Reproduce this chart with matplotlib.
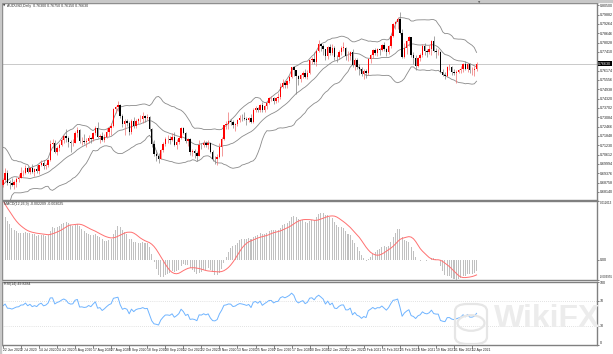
import numpy as np
import pandas as pd
import matplotlib
matplotlib.use('Agg')
import matplotlib.pyplot as plt
from matplotlib.patches import Rectangle, FancyBboxPatch, Circle

plt.rcParams['font.family'] = ['Liberation Sans', 'DejaVu Sans']

# AUDUSD daily closes before the visible window (23 Mar - 19 Jun 2020), only to warm up the indicators
pre_close = [
    0.5810, 0.5930, 0.5960, 0.6050, 0.6140, 0.6110, 0.6130, 0.6070, 0.6060, 0.5980,
    0.6100, 0.6170, 0.6220, 0.6350, 0.6370, 0.6380, 0.6420, 0.6300, 0.6340, 0.6360,
    0.6360, 0.6280, 0.6350, 0.6380, 0.6390, 0.6420, 0.6500, 0.6540, 0.6520, 0.6400,
    0.6410, 0.6440, 0.6440, 0.6510, 0.6540, 0.6490, 0.6470, 0.6460, 0.6450, 0.6420,
    0.6530, 0.6560, 0.6580, 0.6560, 0.6530, 0.6550, 0.6640, 0.6620, 0.6630, 0.6670,
    0.6790, 0.6910, 0.6970, 0.6950, 0.6990, 0.7000, 0.6970, 0.7040, 0.6860, 0.6870,
    0.6910, 0.6900, 0.6880, 0.6860, 0.6860]

# visible bars: 22 Jun 2020 - 14 Apr 2021
first_open = 0.6860
close = [
    0.6893, 0.6937, 0.6876, 0.6874, 0.6863, 0.6881, 0.6901, 0.6906, 0.6937, 0.6939,
    0.6973, 0.6946, 0.6971, 0.6947, 0.6963, 0.6954, 0.6991, 0.7008, 0.6984, 0.6995,
    0.7025, 0.7134, 0.7136, 0.7078, 0.7107, 0.7124, 0.7158, 0.7183, 0.7172, 0.7146,
    0.7137, 0.7141, 0.7206, 0.7222, 0.7150, 0.7153, 0.7147, 0.7151, 0.7174, 0.7164,
    0.7201, 0.7236, 0.7178, 0.7186, 0.7157, 0.7179, 0.7209, 0.7237, 0.7253, 0.7363,
    0.7376, 0.7390, 0.7318, 0.7264, 0.7281, 0.7269, 0.7210, 0.7283, 0.7248, 0.7282,
    0.7296, 0.7300, 0.7315, 0.7303, 0.7307, 0.7232, 0.7129, 0.7062, 0.7051, 0.7034,
    0.7093, 0.7130, 0.7162, 0.7163, 0.7157, 0.7177, 0.7127, 0.7146, 0.7172, 0.7237,
    0.7206, 0.7149, 0.7165, 0.7078, 0.7083, 0.7074, 0.7053, 0.7127, 0.7123, 0.7141,
    0.7125, 0.7138, 0.7078, 0.7034, 0.7030, 0.7044, 0.7110, 0.7165, 0.7254, 0.7263,
    0.7282, 0.7280, 0.7254, 0.7262, 0.7288, 0.7305, 0.7301, 0.7296, 0.7289, 0.7302,
    0.7277, 0.7355, 0.7368, 0.7354, 0.7389, 0.7353, 0.7380, 0.7405, 0.7436, 0.7436,
    0.7417, 0.7437, 0.7442, 0.7508, 0.7532, 0.7524, 0.7546, 0.7578, 0.7639, 0.7623,
    0.7579, 0.7562, 0.7586, 0.7603, 0.7578, 0.7601, 0.7684, 0.7693, 0.7676, 0.7747,
    0.7794, 0.7778, 0.7760, 0.7713, 0.7775, 0.7735, 0.7770, 0.7710, 0.7704, 0.7743,
    0.7768, 0.7770, 0.7713, 0.7713, 0.7739, 0.7652, 0.7686, 0.7644, 0.7629, 0.7594,
    0.7617, 0.7600, 0.7697, 0.7723, 0.7754, 0.7734, 0.7757, 0.7755, 0.7785, 0.7763,
    0.7739, 0.7777, 0.7849, 0.7925, 0.7936, 0.7958, 0.7868, 0.7707, 0.7770, 0.7810,
    0.7840, 0.7720, 0.7700, 0.7650, 0.7700, 0.7720, 0.7780, 0.7750, 0.7740, 0.7760,
    0.7810, 0.7750, 0.7740, 0.7740, 0.7610, 0.7590, 0.7580, 0.7640, 0.7640, 0.7610,
    0.7600, 0.7610, 0.7620, 0.7630, 0.7660, 0.7630, 0.7660, 0.7620, 0.7620, 0.7630,
    0.7663]
high = [
    0.6906, 0.6975, 0.6960, 0.6895, 0.6903, 0.6893, 0.6910, 0.6930, 0.6976, 0.6960,
    0.6990, 0.6984, 0.6980, 0.7000, 0.6975, 0.6991, 0.6995, 0.7026, 0.7025, 0.7005,
    0.7030, 0.7156, 0.7165, 0.7160, 0.7120, 0.7135, 0.7170, 0.7190, 0.7228, 0.7185,
    0.7160, 0.7166, 0.7214, 0.7242, 0.7228, 0.7175, 0.7196, 0.7170, 0.7189, 0.7180,
    0.7210, 0.7250, 0.7276, 0.7195, 0.7210, 0.7195, 0.7235, 0.7245, 0.7270, 0.7370,
    0.7385, 0.7414, 0.7395, 0.7330, 0.7295, 0.7300, 0.7285, 0.7295, 0.7310, 0.7295,
    0.7305, 0.7320, 0.7345, 0.7320, 0.7330, 0.7315, 0.7240, 0.7160, 0.7090, 0.7070,
    0.7100, 0.7145, 0.7175, 0.7190, 0.7185, 0.7205, 0.7210, 0.7165, 0.7185, 0.7243,
    0.7245, 0.7210, 0.7170, 0.7170, 0.7095, 0.7100, 0.7085, 0.7158, 0.7140, 0.7155,
    0.7150, 0.7160, 0.7145, 0.7090, 0.7050, 0.7065, 0.7140, 0.7175, 0.7260, 0.7285,
    0.7340, 0.7300, 0.7290, 0.7270, 0.7295, 0.7320, 0.7330, 0.7340, 0.7310, 0.7310,
    0.7330, 0.7370, 0.7380, 0.7375, 0.7395, 0.7410, 0.7390, 0.7415, 0.7440, 0.7450,
    0.7440, 0.7445, 0.7470, 0.7535, 0.7560, 0.7545, 0.7555, 0.7590, 0.7640, 0.7640,
    0.7620, 0.7590, 0.7595, 0.7615, 0.7630, 0.7620, 0.7690, 0.7710, 0.7743, 0.7755,
    0.7820, 0.7800, 0.7790, 0.7760, 0.7780, 0.7795, 0.7790, 0.7780, 0.7720, 0.7755,
    0.7780, 0.7805, 0.7775, 0.7745, 0.7750, 0.7760, 0.7700, 0.7700, 0.7660, 0.7640,
    0.7630, 0.7630, 0.7700, 0.7730, 0.7760, 0.7765, 0.7770, 0.7770, 0.7790, 0.7805,
    0.7770, 0.7785, 0.7855, 0.7930, 0.7945, 0.7975, 0.8007, 0.7890, 0.7800, 0.7820,
    0.7848, 0.7840, 0.7740, 0.7720, 0.7710, 0.7735, 0.7790, 0.7800, 0.7760, 0.7785,
    0.7820, 0.7849, 0.7765, 0.7760, 0.7750, 0.7625, 0.7610, 0.7645, 0.7660, 0.7650,
    0.7630, 0.7620, 0.7630, 0.7650, 0.7670, 0.7680, 0.7670, 0.7665, 0.7640, 0.7650,
    0.7675]
low = [
    0.6848, 0.6880, 0.6862, 0.6835, 0.6850, 0.6833, 0.6844, 0.6880, 0.6905, 0.6920,
    0.6935, 0.6938, 0.6930, 0.6940, 0.6922, 0.6942, 0.6930, 0.6985, 0.6965, 0.6967,
    0.6980, 0.7020, 0.7105, 0.7070, 0.7060, 0.7085, 0.7115, 0.7140, 0.7144, 0.7110,
    0.7076, 0.7120, 0.7135, 0.7180, 0.7135, 0.7126, 0.7130, 0.7110, 0.7140, 0.7140,
    0.7150, 0.7190, 0.7170, 0.7136, 0.7150, 0.7145, 0.7170, 0.7185, 0.7190, 0.7245,
    0.7335, 0.7350, 0.7305, 0.7245, 0.7191, 0.7250, 0.7190, 0.7200, 0.7240, 0.7240,
    0.7265, 0.7275, 0.7270, 0.7275, 0.7290, 0.7220, 0.7110, 0.7050, 0.7020, 0.7006,
    0.7030, 0.7075, 0.7120, 0.7140, 0.7130, 0.7150, 0.7120, 0.7100, 0.7130, 0.7165,
    0.7195, 0.7140, 0.7120, 0.7060, 0.7050, 0.7040, 0.7021, 0.7050, 0.7100, 0.7110,
    0.7110, 0.7100, 0.7070, 0.7020, 0.7000, 0.6991, 0.7040, 0.7050, 0.7160, 0.7230,
    0.7230, 0.7260, 0.7240, 0.7220, 0.7250, 0.7280, 0.7285, 0.7290, 0.7260, 0.7280,
    0.7270, 0.7270, 0.7340, 0.7345, 0.7345, 0.7340, 0.7340, 0.7360, 0.7395, 0.7415,
    0.7395, 0.7400, 0.7410, 0.7430, 0.7500, 0.7500, 0.7505, 0.7535, 0.7570, 0.7580,
    0.7462, 0.7525, 0.7540, 0.7570, 0.7570, 0.7560, 0.7595, 0.7660, 0.7660, 0.7650,
    0.7740, 0.7750, 0.7720, 0.7690, 0.7695, 0.7720, 0.7720, 0.7690, 0.7675, 0.7695,
    0.7720, 0.7750, 0.7690, 0.7680, 0.7690, 0.7640, 0.7620, 0.7630, 0.7590, 0.7580,
    0.7564, 0.7570, 0.7590, 0.7670, 0.7700, 0.7720, 0.7715, 0.7720, 0.7745, 0.7750,
    0.7715, 0.7730, 0.7770, 0.7840, 0.7895, 0.7890, 0.7860, 0.7700, 0.7700, 0.7730,
    0.7780, 0.7710, 0.7660, 0.7622, 0.7640, 0.7680, 0.7710, 0.7720, 0.7710, 0.7730,
    0.7720, 0.7740, 0.7700, 0.7720, 0.7600, 0.7580, 0.7563, 0.7575, 0.7620, 0.7590,
    0.7585, 0.7532, 0.7600, 0.7600, 0.7610, 0.7620, 0.7610, 0.7600, 0.7590, 0.7580,
    0.7615]

dates = pd.bdate_range('2020-06-22', '2021-04-14')
dates = dates[~dates.isin(pd.to_datetime(['2020-12-25', '2021-01-01']))]

# indicators as MT4 computes them (Bands 20/2, MACD 12/26/9, RSI 14)
allc = pd.Series(pre_close + close)
mid = allc.rolling(20).mean()
sd = allc.rolling(20).std(ddof=0)
upper = mid + 2 * sd
lower = mid - 2 * sd
macd = allc.ewm(span=12, adjust=False).mean() - allc.ewm(span=26, adjust=False).mean()
signal = macd.rolling(9).mean()
d = allc.diff()
up_avg = d.clip(lower=0).ewm(alpha=1 / 14, adjust=False).mean()
dn_avg = (-d.clip(upper=0)).ewm(alpha=1 / 14, adjust=False).mean()
rsi = 100 - 100 / (1 + up_avg / dn_avg)
n0 = len(pre_close)
mid, upper, lower = mid[n0:].values, upper[n0:].values, lower[n0:].values
macd, signal, rsi = macd[n0:].values, signal[n0:].values, rsi[n0:].values

c = np.array(close)
o = np.array([first_open] + close[:-1])
h = np.maximum(np.array(high), np.maximum(o, c))
l = np.minimum(np.array(low), np.minimum(o, c))
x = np.arange(len(c))
bull = c >= o

W, H = 613, 354
fig = plt.figure(figsize=(W / 100, H / 100), dpi=100, facecolor='white')
fs = 2.6
left, right = 2 / W, 597 / W
def box(top, bot):
    return [left, 1 - bot / H, right - left, (bot - top) / H]

ax = fig.add_axes(box(3, 199.5))
ax2 = fig.add_axes(box(200.5, 279.5))
ax3 = fig.add_axes(box(281.5, 345))
xl = (-0.4, 263.4)

for a in (ax, ax2, ax3):
    a.set_xlim(*xl)
    a.set_facecolor('white')
    for s in a.spines.values():
        s.set_color('#808080')
        s.set_linewidth(1.0)
    a.yaxis.tick_right()
    a.tick_params(axis='y', labelsize=fs, length=1.2, width=0.4, pad=0.8, colors='#202020')
    a.tick_params(axis='x', bottom=False, labelbottom=False)

# main chart
ax.set_ylim(0.67638, 0.80646)
ax.set_yticks(0.80500 - np.arange(21) * 0.00618)
ax.yaxis.set_major_formatter(matplotlib.ticker.FormatStrFormatter('%.5f'))
ax.axhline(c[-1], color='#c0c0c0', lw=0.6, zorder=1)
ax.plot(x, upper, color='#8a8a8a', lw=0.6, zorder=2)
ax.plot(x, mid, color='#8a8a8a', lw=0.6, zorder=2)
ax.plot(x, lower, color='#8a8a8a', lw=0.6, zorder=2)
wick_col = np.where(bull, '#f07070', '#808080')
body_col = np.where(bull, '#ff0000', '#000000')
ax.vlines(x, l, h, colors=wick_col, lw=0.5, zorder=3)
ax.bar(x, np.maximum(np.abs(c - o), 0.0003), bottom=np.minimum(o, c), width=0.62,
       color=body_col, lw=0, zorder=4)
ax.text(0.002, 0.995, '\u25bc', transform=ax.transAxes, fontsize=2.2, color='#404040',
        va='top', ha='left', family='DejaVu Sans')
ax.text(0.009, 0.997, 'AUDUSD,Daily  %.5f %.5f %.5f %.5f' % (o[-1], h[-1], l[-1], c[-1]),
        transform=ax.transAxes, fontsize=fs, color='#303030', va='top', ha='left')
# hide the regular price label that sits under the current-price box
for t, lab in zip(ax.get_yticks(), ax.get_yticklabels()):
    if abs(t - c[-1]) < 0.0025:
        lab.set_visible(False)
ax.text(1.002, c[-1], '%.5f' % c[-1], transform=ax.get_yaxis_transform(), fontsize=fs,
        color='white', va='center', ha='left',
        bbox=dict(boxstyle='square,pad=0.15', fc='black', ec='none'))

# MACD
mtop = max(macd.max(), signal.max())
mbot = min(macd.min(), signal.min())
ax2.set_ylim(mbot, mtop)
ax2.bar(x, macd, width=0.45, color='#c0c0c0', lw=0)
ax2.plot(x, signal, color='#ff7070', lw=0.7)
ax2.set_yticks([mtop, 0, mbot])
ax2.set_yticklabels(['%.6f' % mtop, '0.00', '%.6f' % mbot])
mlabels = ax2.get_yticklabels()
mlabels[0].set_va('top')
mlabels[2].set_va('bottom')
mlabels[0].set_fontsize(2.2)
mlabels[2].set_fontsize(2.1)
ax2.text(0.004, 0.985, 'MACD(12,26,9) %.6f %.6f' % (macd[-1], signal[-1]),
         transform=ax2.transAxes, fontsize=fs, color='#303030', va='top', ha='left')

# RSI
ax3.set_ylim(0, 100)
for lev in (30, 70):
    ax3.axhline(lev, color='#c8c8c8', lw=0.5, ls=(0, (1, 2)))
ax3.plot(x, rsi, color='#6fb4ff', lw=0.7)
ax3.set_yticks([0, 30, 70, 100])
ax3.set_yticklabels(['0', '30', '70', '100'])
rlabels = ax3.get_yticklabels()
rlabels[0].set_va('bottom')
rlabels[3].set_va('top')
ax3.text(0.004, 0.985, 'RSI(14) %.4f' % rsi[-1], transform=ax3.transAxes, fontsize=fs,
         color='#303030', va='top', ha='left')
tick_idx = x[::8]
ax3.set_xticks(tick_idx)
ax3.set_xticklabels(['%d %s' % (dates[i].day, dates[i].strftime('%b %Y')) for i in tick_idx],
                    ha='left')
ax3.tick_params(axis='x', bottom=True, labelbottom=True, labelsize=2.4, length=2,
                width=0.4, pad=0.5, colors='#202020')

# window frame and chart-shift marker
fig.patches.append(Rectangle((0, 1 - 2 / H), 1, 2 / H, transform=fig.transFigure,
                             color='#c8c8c8', zorder=0))
fig.patches.append(Rectangle((0, 0), 1.2 / W, 1, transform=fig.transFigure,
                             color='#c8c8c8', zorder=0))
fig.text(479 / W, 1 - 3 / H, '\u25bc', fontsize=2.2, color='#606060', ha='center',
         va='center', family='DejaVu Sans')

# WikiFX watermark
fig.patches.append(FancyBboxPatch((455 / W, 1 - 344 / H), 32 / W, 40 / H,
                                  boxstyle='round,pad=0,rounding_size=0.02',
                                  transform=fig.transFigure, fc='none', ec='#e6e6e6',
                                  lw=1.6, zorder=10))
fig.patches.append(Circle((471 / W, 1 - 323 / H), 0.022, transform=fig.transFigure,
                          fc='none', ec='#e6e6e6', lw=1.6, zorder=10))
fig.text(547 / W, 1 - 319 / H, 'WikiFX', fontsize=23, fontweight='bold', color='#ececec',
         ha='center', va='center', zorder=10)

fig.savefig('out.png', dpi=100, facecolor='white')
